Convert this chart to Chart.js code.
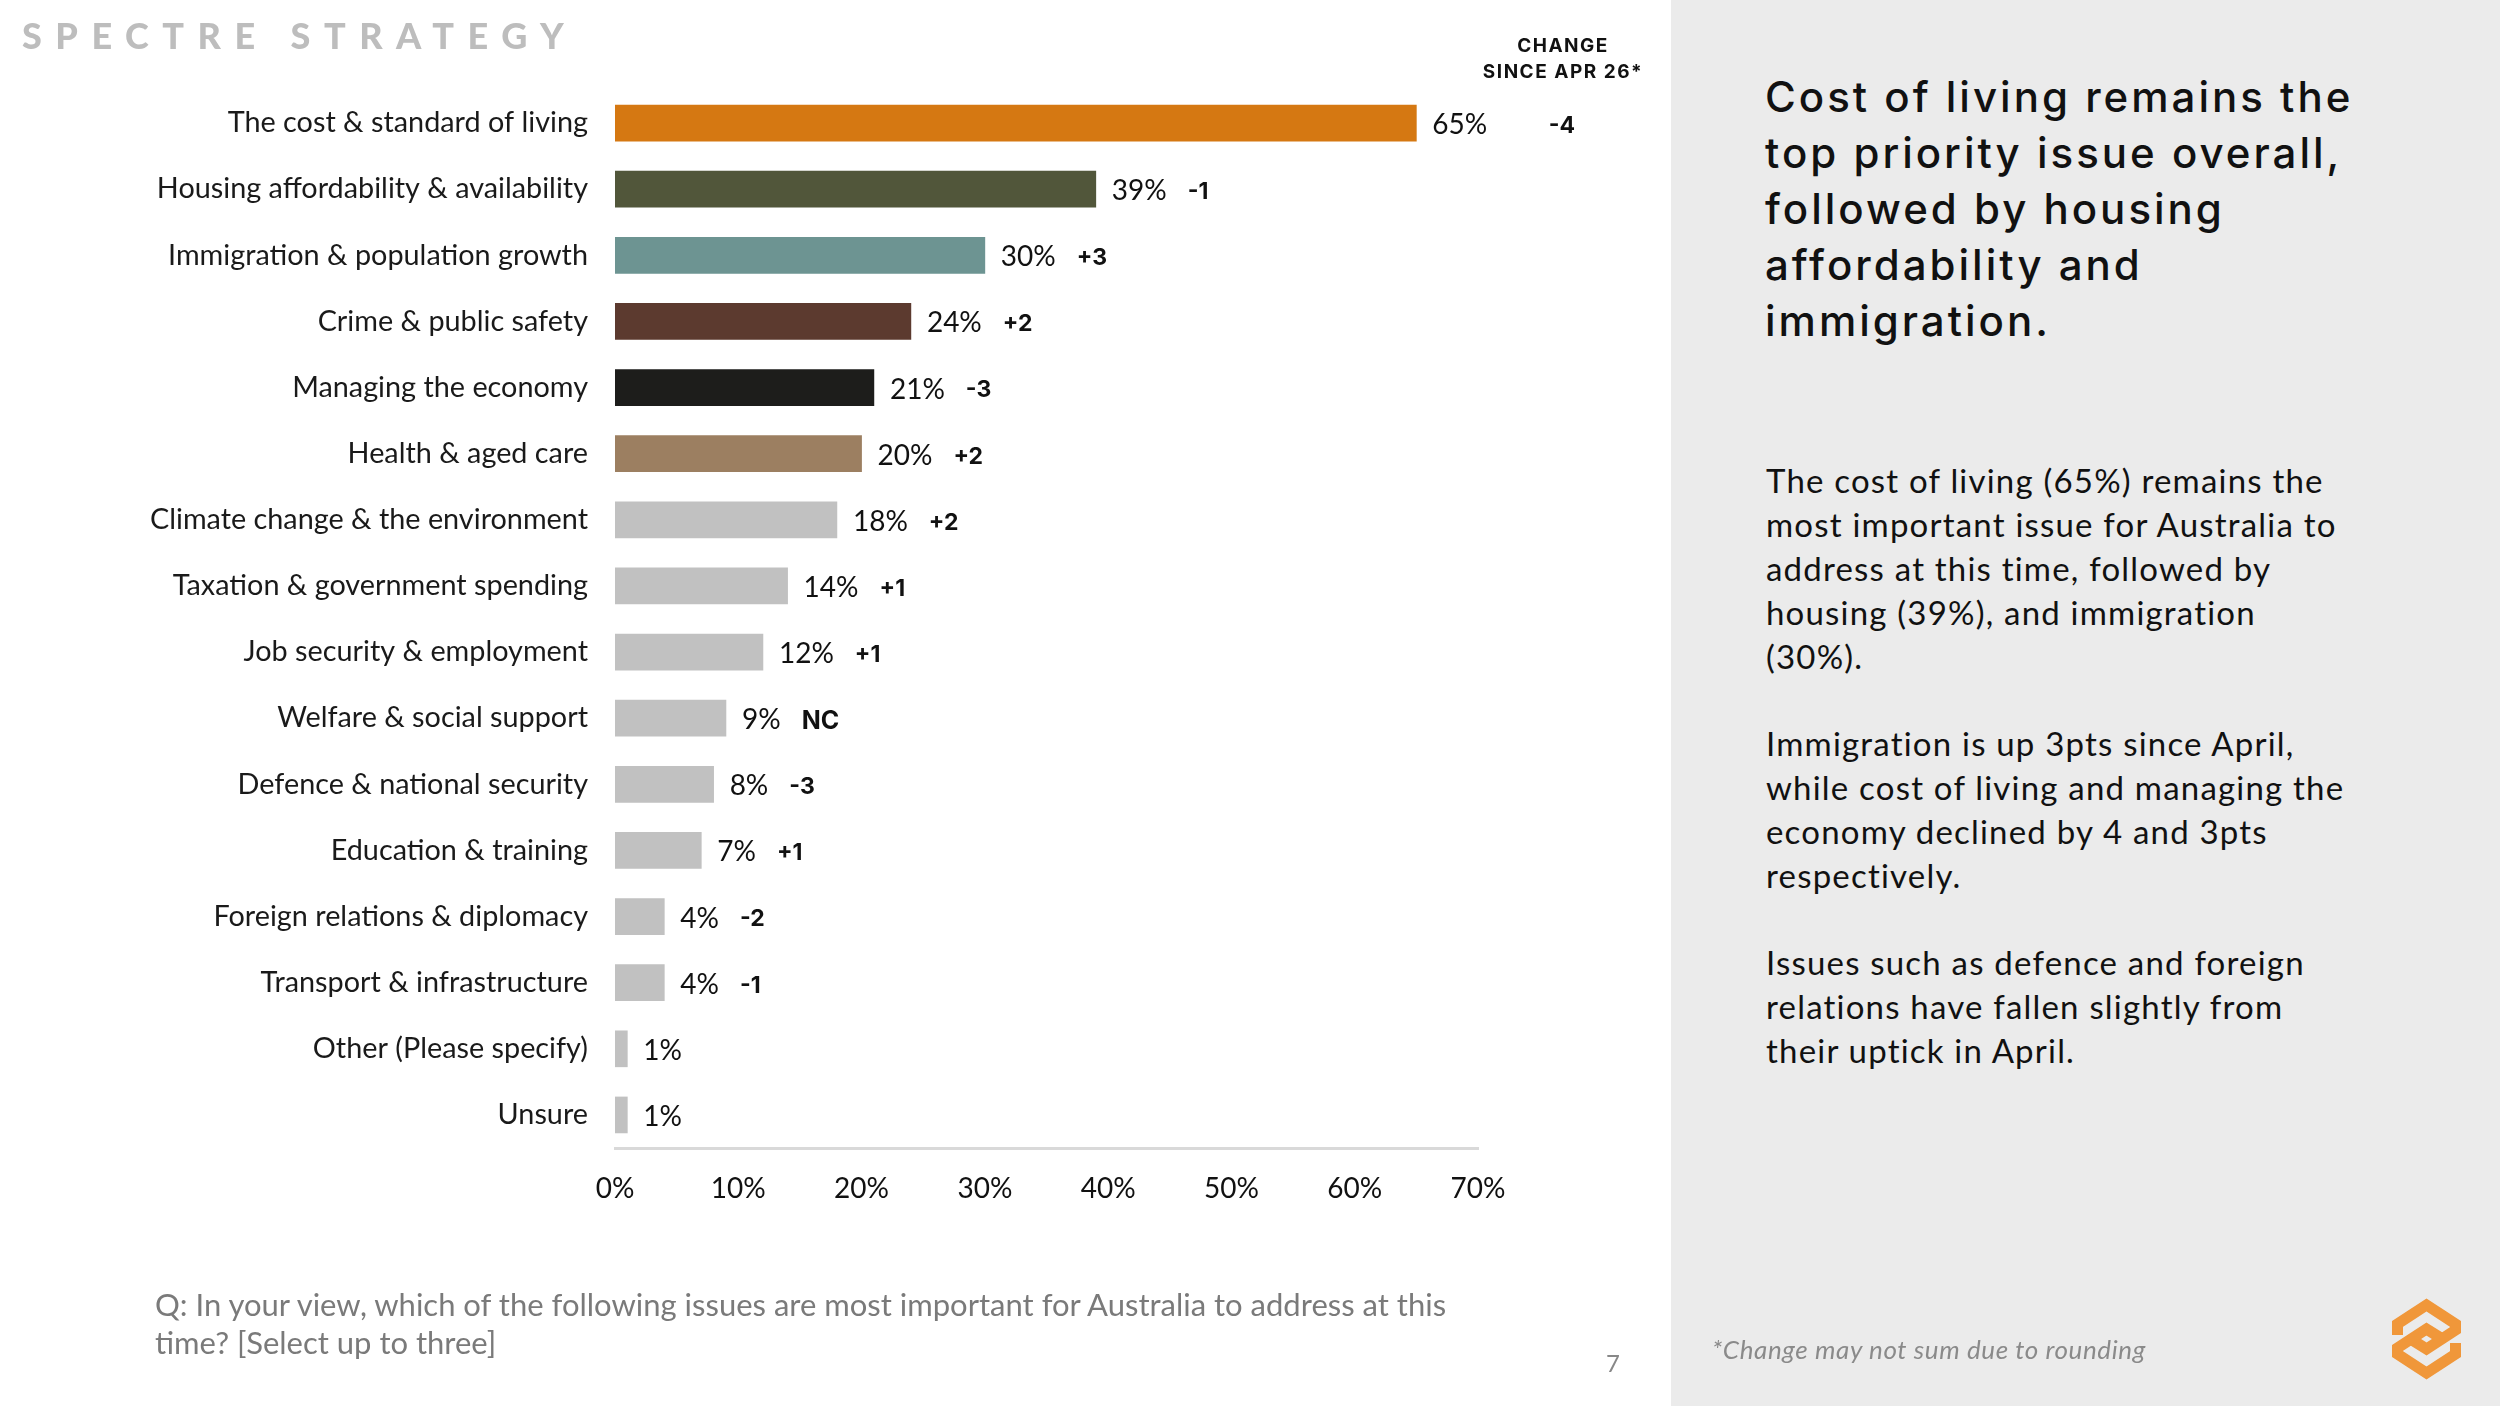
<!DOCTYPE html>
<html>
<head>
<meta charset="utf-8">
<script src="https://cdn.jsdelivr.net/npm/chart.js@4.4.1/dist/chart.umd.min.js"></script>
<style>
  html, body { margin: 0; padding: 0; background: #fff; }
  #page { position: relative; width: 2500px; height: 1406px; overflow: hidden; font-family: Lato, sans-serif; color: #111; }
  #panel { position: absolute; left: 1671px; top: 0; width: 829px; height: 1406px; background: #ebebeb; }
  #chart { position: absolute; left: 0; top: 0; }
  .abs { position: absolute; white-space: nowrap; }
  #brand { left: 22px; top: 13px; font-size: 36px; font-weight: 900; letter-spacing: 13.5px; color: #bdbdbd; line-height: 44px; }
  #changeHead { left: 1463px; top: 33px; width: 200px; text-align: center; font-family: Inter, sans-serif; font-size: 19px; font-weight: 700; letter-spacing: 1.5px; line-height: 26px; color: #111; }
  #headline { left: 1765px; top: 69px; font-family: Inter, sans-serif; font-size: 42px; font-weight: 500; letter-spacing: 3px; line-height: 56px; color: #111; }
  #body { left: 1766px; top: 458px; font-size: 33px; letter-spacing: 1.2px; line-height: 44px; color: #111; }
  #body p { margin: 0 0 43px 0; }
  #question { left: 155px; top: 1285px; font-size: 31px; line-height: 38px; color: #7a7a7a; }
  #pageNo { left: 1606px; top: 1348px; font-size: 24px; color: #888; }
  #footnote { left: 1712px; top: 1333px; font-size: 26px; letter-spacing: 0.6px; font-style: italic; color: #8a8a8a; }
  #logo { position: absolute; left: 2300px; top: 1250px; }
</style>
</head>
<body>
<div id="page">
  <div id="panel"></div>
  <canvas id="chart" width="1660" height="1406"></canvas>
  <div class="abs" id="brand">SPECTRE STRATEGY</div>
  <div class="abs" id="changeHead">CHANGE<br>SINCE APR 26*</div>
  <div class="abs" id="headline">Cost of living remains the<br>top priority issue overall,<br>followed by housing<br>affordability and<br>immigration.</div>
  <div class="abs" id="body">
    <p>The cost of living (65%) remains the<br>most important issue for Australia to<br>address at this time, followed by<br>housing (39%), and immigration<br>(30%).</p>
    <p>Immigration is up 3pts since April,<br>while cost of living and managing the<br>economy declined by 4 and 3pts<br>respectively.</p>
    <p>Issues such as defence and foreign<br>relations have fallen slightly from<br>their uptick in April.</p>
  </div>
  <div class="abs" id="question">Q: In your view, which of the following issues are most important for Australia to address at this<br>time? [Select up to three]</div>
  <div class="abs" id="pageNo">7</div>
  <div class="abs" id="footnote">*Change may not sum due to rounding</div>
  <svg id="logo" width="200" height="156" viewBox="0 0 200 156">
    <g fill="none" stroke="#f0973a" stroke-width="11" stroke-linejoin="miter">
      <path d="M97.5,85 V74 L126.5,55 L155.5,74 V80 L126.5,99 L113,90.5"/>
      <path d="M155.5,93 V104 L126.5,123 L97.5,104 V98 L126.5,79 L140,87.5"/>
    </g>
  </svg>
</div>

<script>
const categories = [
  'The cost & standard of living',
  'Housing affordability & availability',
  'Immigration & population growth',
  'Crime & public safety',
  'Managing the economy',
  'Health & aged care',
  'Climate change & the environment',
  'Taxation & government spending',
  'Job security & employment',
  'Welfare & social support',
  'Defence & national security',
  'Education & training',
  'Foreign relations & diplomacy',
  'Transport & infrastructure',
  'Other (Please specify)',
  'Unsure'
];
const values = [65, 39, 30, 24, 21, 20, 18, 14, 12, 9, 8, 7, 4, 4, 1, 1];
const changes = ['-4', '-1', '+3', '+2', '-3', '+2', '+2', '+1', '+1', 'NC', '-3', '+1', '-2', '-1', '', ''];
const barColors = [
  '#d57812', '#51563a', '#6d9492', '#5c3a2f', '#1d1d1b', '#9c7f61',
  '#c1c1c1', '#c1c1c1', '#c1c1c1', '#c1c1c1', '#c1c1c1', '#c1c1c1',
  '#c1c1c1', '#c1c1c1', '#c1c1c1', '#c1c1c1'
];
const xTicks = [0, 10, 20, 30, 40, 50, 60, 70];

// value + change labels next to each bar
const barLabels = {
  id: 'barLabels',
  afterDatasetsDraw(chart) {
    const ctx = chart.ctx;
    const meta = chart.getDatasetMeta(0);
    ctx.save();
    ctx.textBaseline = 'middle';
    meta.data.forEach((bar, i) => {
      const txt = values[i] + '%';
      ctx.font = '28px Lato';
      ctx.fillStyle = '#111';
      ctx.textAlign = 'left';
      const vx = bar.x + 16;
      ctx.fillText(txt, vx, bar.y + 2);
      const w = ctx.measureText(txt).width;
      if (!changes[i]) return;
      ctx.font = changes[i] === 'NC' ? 'bold 25px Inter' : 'bold 23px Inter';
      if (i === 0) {
        ctx.textAlign = 'center';
        ctx.fillText(changes[i], 1562, bar.y + 3);
      } else {
        ctx.fillText(changes[i], vx + w + 21, bar.y + 3);
      }
    });
    ctx.restore();
  }
};

new Chart(document.getElementById('chart'), {
  type: 'bar',
  data: {
    labels: categories,
    datasets: [{
      data: values,
      backgroundColor: barColors,
      barThickness: 36,
      borderWidth: 0
    }]
  },
  options: {
    indexAxis: 'y',
    responsive: false,
    animation: false,
    layout: { padding: { top: 90, right: 182, left: 0, bottom: 0 } },
    plugins: { legend: { display: false }, tooltip: { enabled: false } },
    scales: {
      x: {
        min: 0,
        max: 70,
        afterBuildTicks(scale) { scale.ticks = xTicks.map(v => ({ value: v })); },
        afterFit(scale) { scale.height = 258; },
        grid: { display: false, drawTicks: false },
        border: { display: true, color: '#d9d9d9', width: 3 },
        ticks: {
          padding: 24,
          color: '#111',
          font: { family: 'Lato', size: 28 },
          callback: v => v + '%'
        }
      },
      y: {
        afterFit(scale) { scale.width = 615; },
        grid: { display: false, drawTicks: false },
        border: { display: false },
        ticks: {
          padding: 27,
          color: '#1a1a1a',
          font: { family: 'Lato', size: 28.8 }
        }
      }
    }
  },
  plugins: [barLabels]
});
</script>
</body>
</html>
